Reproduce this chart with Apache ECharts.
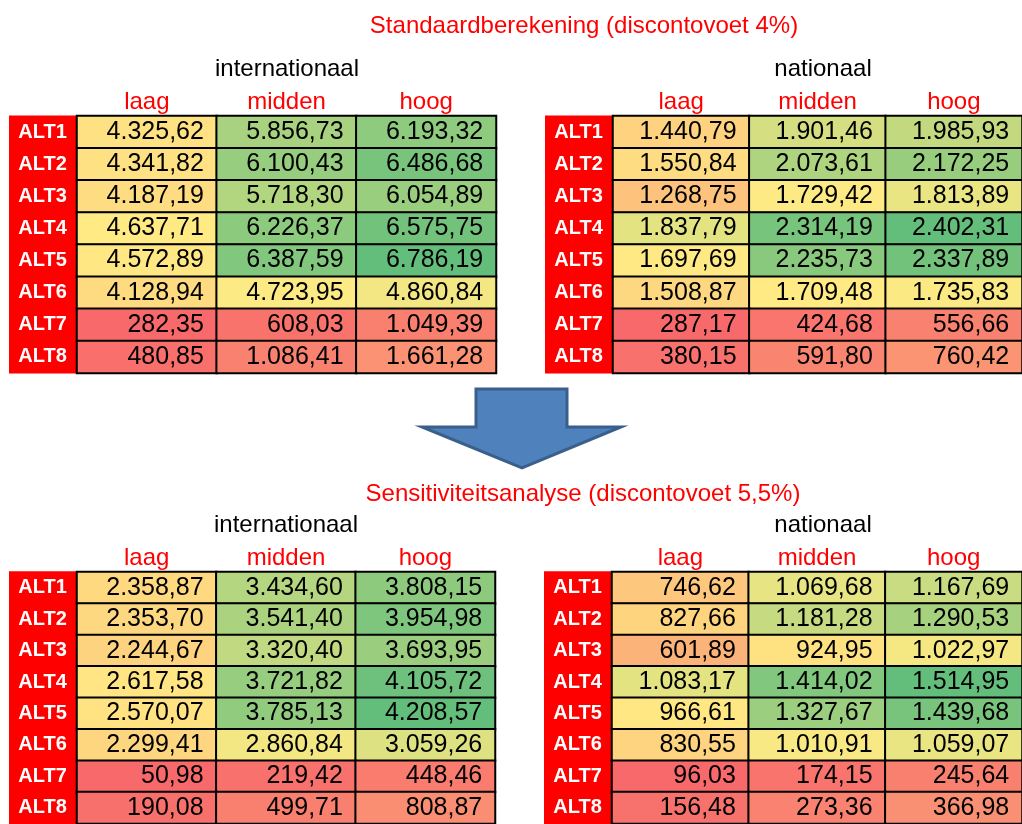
<!DOCTYPE html>
<html>
<head>
<meta charset="utf-8">
<title>Standaardberekening en sensitiviteitsanalyse</title>
<script src="https://cdn.jsdelivr.net/npm/echarts@6/dist/echarts.min.js"></script>
<style>
  html, body { margin: 0; padding: 0; background: #fff; }
  #main { width: 1022px; height: 824px; }
</style>
</head>
<body>
<div id="main"></div>
<script type="text/javascript">
// kolommen en rijen
var cols = ['laag', 'midden', 'hoog'];
var alts = ['ALT1', 'ALT2', 'ALT3', 'ALT4', 'ALT5', 'ALT6', 'ALT7', 'ALT8'];

// standaardberekening (discontovoet 4%)
var stdInt = [
	[4325.62, 5856.73, 6193.32],
	[4341.82, 6100.43, 6486.68],
	[4187.19, 5718.30, 6054.89],
	[4637.71, 6226.37, 6575.75],
	[4572.89, 6387.59, 6786.19],
	[4128.94, 4723.95, 4860.84],
	[282.35, 608.03, 1049.39],
	[480.85, 1086.41, 1661.28]
];
var stdNat = [
	[1440.79, 1901.46, 1985.93],
	[1550.84, 2073.61, 2172.25],
	[1268.75, 1729.42, 1813.89],
	[1837.79, 2314.19, 2402.31],
	[1697.69, 2235.73, 2337.89],
	[1508.87, 1709.48, 1735.83],
	[287.17, 424.68, 556.66],
	[380.15, 591.80, 760.42]
];
// sensitiviteitsanalyse (discontovoet 5,5%)
var sensInt = [
	[2358.87, 3434.60, 3808.15],
	[2353.70, 3541.40, 3954.98],
	[2244.67, 3320.40, 3693.95],
	[2617.58, 3721.82, 4105.72],
	[2570.07, 3785.13, 4208.57],
	[2299.41, 2860.84, 3059.26],
	[50.98, 219.42, 448.46],
	[190.08, 499.71, 808.87]
];
var sensNat = [
	[746.62, 1069.68, 1167.69],
	[827.66, 1181.28, 1290.53],
	[601.89, 924.95, 1022.97],
	[1083.17, 1414.02, 1514.95],
	[966.61, 1327.67, 1439.68],
	[830.55, 1010.91, 1059.07],
	[96.03, 174.15, 245.64],
	[156.48, 273.36, 366.98]
];

var FONT = '"Liberation Sans", Arial, Helvetica, sans-serif';

// 1.234,56
function nl(v) {
	var s = v.toFixed(2).split('.');
	return s[0].replace(/\B(?=(\d{3})+(?!\d))/g, '.') + ',' + s[1];
}

// kleurenschaal rood - geel - groen (min / 50e percentiel / max)
var RED = [248, 105, 107], YEL = [255, 235, 132], GRN = [99, 190, 123];
function mix(a, b, t) {
	return 'rgb(' + a.map(function(c, i) { return Math.round(c + (b[i] - c) * t); }).join(',') + ')';
}
function colorScale(table) {
	var vals = [];
	table.forEach(function(r) { vals = vals.concat(r); });
	vals.sort(function(a, b) { return a - b; });
	var min = vals[0], max = vals[vals.length - 1];
	var p = (vals.length - 1) * 0.5, lo = Math.floor(p);
	var mid = vals[lo] + (vals[lo + 1] - vals[lo]) * (p - lo);
	return function(v) {
		if (v <= mid) return mix(RED, YEL, (v - min) / (mid - min));
		return mix(YEL, GRN, (v - mid) / (max - mid));
	};
}

var tables = [
	{ data: stdInt, left: 77, top: 116, width: 419 },
	{ data: stdNat, left: 613, top: 116, width: 417 },
	{ data: sensInt, left: 77, top: 572, width: 418 },
	{ data: sensNat, left: 612, top: 572, width: 418 }
];

var grid = [], xAxis = [], yAxis = [], series = [];
tables.forEach(function(t, k) {
	grid.push({ left: t.left, top: t.top, width: t.width, height: 257 });
	xAxis.push({
		type: 'category', gridIndex: k, position: 'top', data: cols,
		axisLine: { show: false }, axisTick: { show: false }, splitLine: { show: false },
		axisLabel: { interval: 0, margin: 2, color: '#FF0000', fontSize: 24, fontFamily: FONT }
	});
	yAxis.push({
		type: 'category', gridIndex: k, inverse: true, data: alts,
		axisLine: { show: false }, axisTick: { show: false }, splitLine: { show: false },
		axisLabel: {
			interval: 0, margin: 1, formatter: '{a|{value}}',
			rich: {
				a: {
					width: 67, height: 33, lineHeight: 33, align: 'center',
					backgroundColor: '#FF0000', color: '#fff', fontWeight: 'bold',
					fontSize: 20, fontFamily: FONT
				}
			}
		}
	});
	var col = colorScale(t.data);
	var cells = [];
	t.data.forEach(function(row, r) {
		row.forEach(function(v, c) {
			cells.push({ value: [c, r, v], itemStyle: { color: col(v) } });
		});
	});
	series.push({
		type: 'heatmap', xAxisIndex: k, yAxisIndex: k, data: cells,
		itemStyle: { borderColor: '#000', borderWidth: 2 },
		label: {
			show: true, position: 'insideRight', distance: 14,
			color: '#000', fontSize: 25, fontFamily: FONT,
			formatter: function(p) { return nl(p.value[2]); }
		},
		emphasis: { disabled: true }
	});
});

function txt(s, x, y, color) {
	return {
		type: 'text', x: x, y: y, silent: true,
		style: { text: s, fill: color, font: '24px ' + FONT, align: 'center', verticalAlign: 'middle' }
	};
}

var myChart = echarts.init(document.getElementById('main'));
var option = {
	animation: false,
	grid: grid,
	xAxis: xAxis,
	yAxis: yAxis,
	series: series,
	graphic: [
		txt('Standaardberekening (discontovoet 4%)', 584, 26, '#FF0000'),
		txt('internationaal', 287, 69, '#000'),
		txt('nationaal', 823, 69, '#000'),
		txt('Sensitiviteitsanalyse (discontovoet 5,5%)', 583, 494, '#FF0000'),
		txt('internationaal', 286, 525, '#000'),
		txt('nationaal', 823, 525, '#000'),
		{
			type: 'polygon', silent: true,
			shape: { points: [[476, 389], [567, 389], [567, 427], [621, 427], [522, 468], [422, 427], [476, 427]] },
			style: { fill: '#4F81BD', stroke: '#3A5F8B', lineWidth: 3 }
		}
	]
};
myChart.setOption(option);
</script>
</body>
</html>
